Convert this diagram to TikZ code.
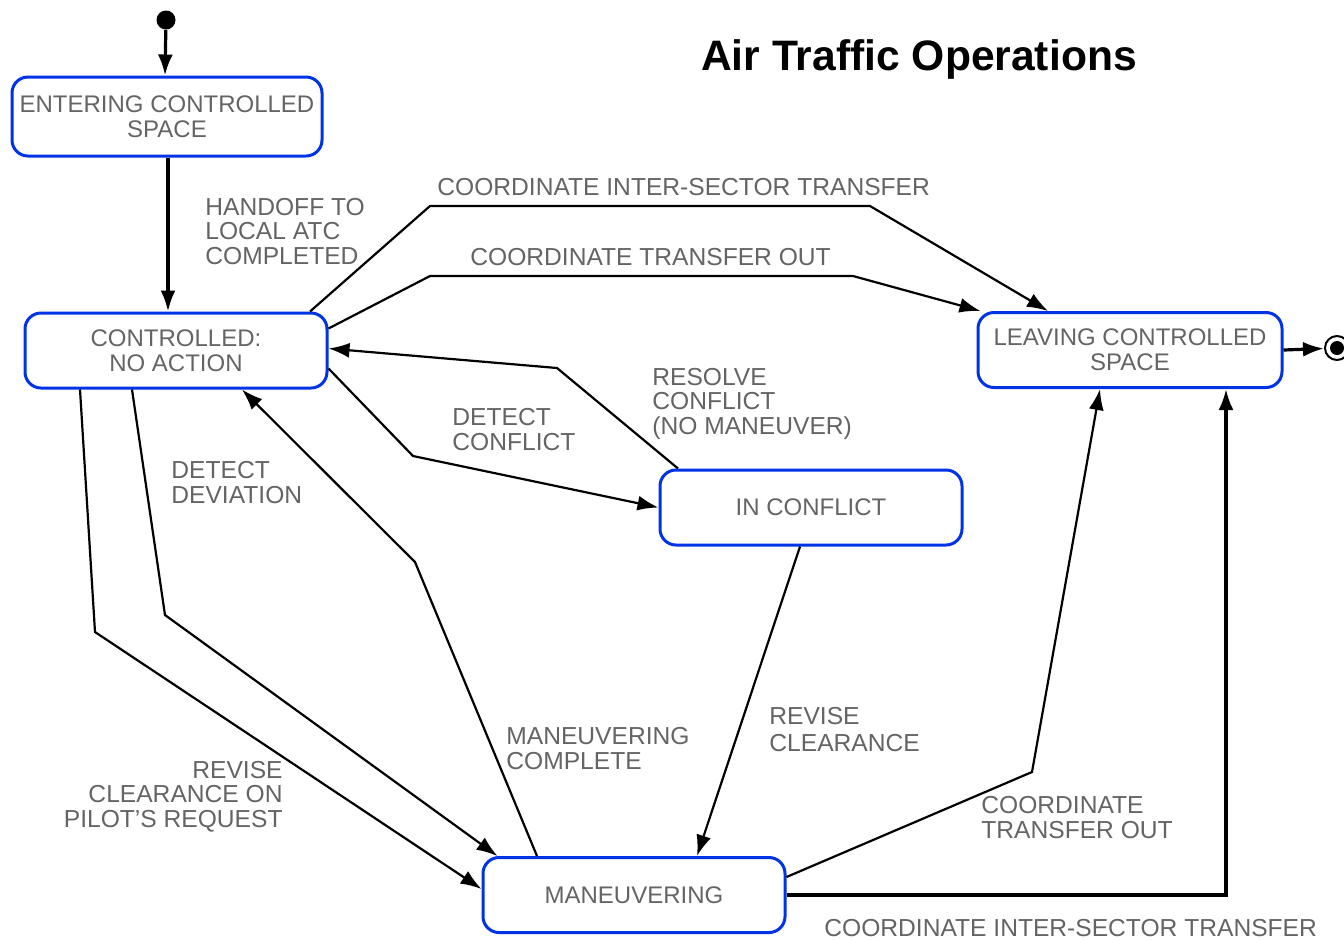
\documentclass[tikz,border=0pt]{standalone}
\usepackage{fontspec}
\setmainfont{Liberation Sans}
\usetikzlibrary{arrows.meta}
\definecolor{boxblue}{RGB}{0,51,230}
\definecolor{labelgray}{RGB}{100,100,100}
\begin{document}
\begin{tikzpicture}[x=0.5pt,y=-0.5pt,
  state/.style={draw=boxblue,line width=1.5pt,rounded corners=8pt,minimum width=151pt,minimum height=37.5pt,inner sep=0pt,align=center,text=labelgray,font=\fontsize{12}{12.5}\selectfont},
  lbl/.style={text=labelgray,font=\fontsize{12.3}{12.25}\selectfont,inner sep=0pt},
  conn/.style={line width=1.1pt,-{Latex[length=10.5pt,width=7.5pt]}},
  thickconn/.style={conn,line width=1.6pt}
]
\useasboundingbox (0,0) rectangle (1344,939);

% title
\node[font=\bfseries\fontsize{21.3}{24}\selectfont,anchor=base,inner sep=0pt] (title) at (919,70) {Air Traffic Operations};

% states
\node[state,minimum width=155pt,minimum height=39.5pt] (ent) at (167,116.5) {ENTERING CONTROLLED\\SPACE};
\node[state] (ctrl) at (176,350.5) {CONTROLLED:\\NO ACTION};
\node[state,minimum width=152pt] (leave) at (1130,350) {LEAVING CONTROLLED\\SPACE};
\node[state] (conf) at (811,507.5) {IN CONFLICT};
\node[state] (man) at (634,895) {MANEUVERING};

% initial and final
\node[circle,fill,minimum size=9.5pt,inner sep=0pt] (init) at (166,20) {};
\node[circle,draw,line width=1pt,minimum size=12pt,inner sep=0pt] (fin) at (1337,348) {};
\node[circle,fill,minimum size=7pt,inner sep=0pt] (finin) at (fin) {};

% connectors
\draw[thickconn] (init) -- ([xshift=-1pt]ent.north);
\draw[thickconn] ([xshift=0.5pt]ent.south) -- ([xshift=-4pt]ctrl.north);
\draw[conn] ([xshift=67pt]ctrl.north) -- (430,206) -- (870,206) -- ([xshift=-41pt]leave.north);
\draw[conn] ([yshift=11pt]ctrl.east) -- (430,276) -- (853,276) -- ([xshift=2pt]leave.north west);
\draw[conn] ([xshift=-66.5pt]conf.north) -- (557,368) -- ([yshift=1pt]ctrl.east);
\draw[conn] ([yshift=-9pt]ctrl.east) -- (413,456) -- (conf.west);
\draw[conn] ([xshift=-22pt]ctrl.south) -- (165,615) -- ([xshift=8pt]man.north west);
\draw[conn] ([xshift=-48pt]ctrl.south) -- (95,632) -- ([yshift=3pt]man.west);
\draw[conn] ([xshift=-48.5pt]man.north) -- (415,562) -- ([xshift=33pt]ctrl.south);
\draw[conn] ([xshift=-5.5pt]conf.south) -- ([xshift=31.5pt]man.north);
\draw[conn] ([yshift=9pt]man.east) -- (1032,772) -- ([xshift=-15pt]leave.south);
\draw[thickconn] (man.east) -| ([xshift=48pt]leave.south);
\draw[thickconn] (leave.east) -- (fin);

% labels (base anchor = baseline of the last line)
\node[lbl,anchor=base west,align=left] (lhand) at (205,264) {HANDOFF TO\\LOCAL ATC\\COMPLETED};
\node[lbl,anchor=base west] (lcist) at (437,195) {COORDINATE INTER-SECTOR TRANSFER};
\node[lbl,anchor=base west] (lcto) at (470,265) {COORDINATE TRANSFER OUT};
\node[lbl,anchor=base west,align=left] (lres) at (652,434) {RESOLVE\\CONFLICT\\(NO MANEUVER)};
\node[lbl,anchor=base west,align=left] (ldc) at (452,450) {DETECT\\CONFLICT};
\node[lbl,anchor=base west,align=left] (ldd) at (171,503) {DETECT\\DEVIATION};
\node[lbl,anchor=base west,align=left] (lmc) at (506,769) {MANEUVERING\\COMPLETE};
\node[lbl,anchor=base west,align=left,font=\fontsize{12.3}{13.5}\selectfont] (lrc) at (769,751) {REVISE\\CLEARANCE};
\node[lbl,anchor=base east,align=right] (lpil) at (283,827) {REVISE\\CLEARANCE ON\\PILOT'S REQUEST};
\node[lbl,anchor=base west,align=left] (lcto2) at (981,838) {COORDINATE\\TRANSFER OUT};
\node[lbl,anchor=base west] (lcist2) at (824,936) {COORDINATE INTER-SECTOR TRANSFER};
\end{tikzpicture}
\end{document}
